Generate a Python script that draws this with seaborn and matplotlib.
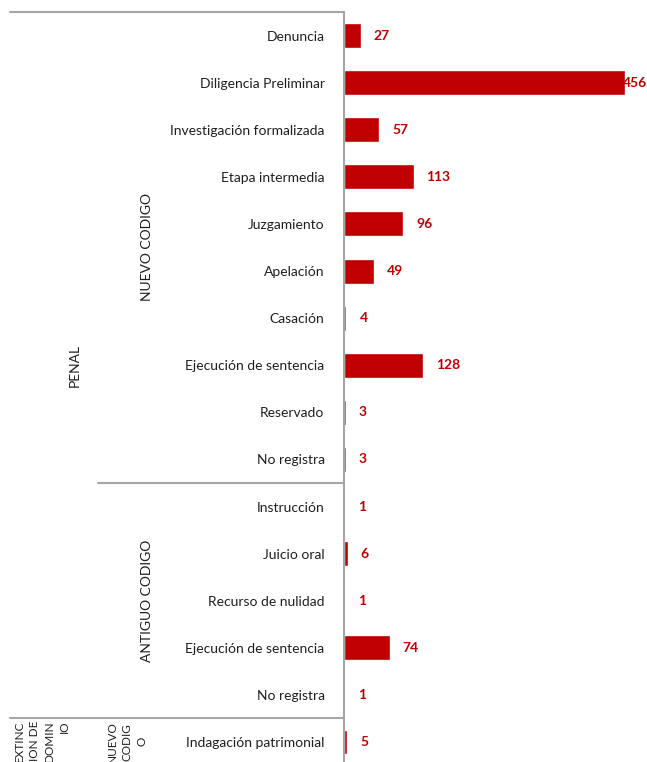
import pandas as pd
import matplotlib.pyplot as plt
import matplotlib.transforms as mtransforms
import seaborn as sns

etapas = ["Denuncia", "Diligencia Preliminar", "Investigación formalizada",
          "Etapa intermedia", "Juzgamiento", "Apelación", "Casación",
          "Ejecución de sentencia", "Reservado", "No registra",
          "Instrucción", "Juicio oral", "Recurso de nulidad",
          "Ejecución de sentencia", "No registra",
          "Indagación patrimonial"]
codigos = ["NUEVO CODIGO"] * 10 + ["ANTIGUO CODIGO"] * 5 + ["NUEVO CODIGO"]
materias = ["PENAL"] * 15 + ["EXTINCION DE DOMINIO"]
valores = [27, 456, 57, 113, 96, 49, 4, 128, 3, 3, 1, 6, 1, 74, 1, 5]

df = pd.DataFrame({"etapa": etapas, "codigo": codigos, "materia": materias, "valor": valores})
df["fila"] = [f"{i}" for i in range(len(df))]

RED = "#C00000"
GRAY = "#A6A6A6"
TXT = "#1F1F1F"
FS = 10

sns.set_style("white")
plt.rcParams["font.family"] = ["Lato", "DejaVu Sans"]

fig = plt.figure(figsize=(6.47, 7.62), dpi=100)
ax = fig.add_axes([344 / 647, 0, 1 - 344 / 647, 1 - 12 / 762])

sns.barplot(data=df, x="valor", y="fila", orient="h", color=RED,
            width=0.53, saturation=1, ax=ax)

xmax = 492
ax.set_xlim(0, xmax)
ax.set_ylim(15 + 20 / 47.1, -0.5)
ax.set_xlabel("")
ax.set_ylabel("")
ax.set_xticks([])
ax.set_yticks(range(len(df)))
ax.set_yticklabels(df["etapa"], fontsize=FS, color=TXT)
ax.tick_params(axis="y", length=0, pad=14)
for s in ["top", "right", "bottom"]:
    ax.spines[s].set_visible(False)
ax.spines["left"].set_color(GRAY)
ax.spines["left"].set_linewidth(1.5)

# value labels
px = xmax / (647 - 344)
for i, v in enumerate(df["valor"]):
    x = v + 13 * px
    if x + 22 * px > xmax:
        ax.text(xmax, i, str(v), ha="right", va="center", color=RED,
                fontsize=FS, fontweight="bold", clip_on=False)
    else:
        ax.text(x, i, str(v), ha="left", va="center", color=RED,
                fontsize=FS, fontweight="bold")

# group labels and separators
tr = mtransforms.blended_transform_factory(fig.transFigure, ax.transData)
W = 647
for y0, x0 in [(-0.5, 10), (9.5, 98), (14.5, 10)]:
    fig.add_artist(plt.Line2D([x0 / W, 344 / W], [y0, y0], transform=tr,
                              color=GRAY, lw=1.5))

ax.text(147 / W, 4.5, "NUEVO CODIGO", transform=tr, rotation=90,
        ha="center", va="center", fontsize=FS, color=TXT, clip_on=False)
ax.text(147 / W, 12, "ANTIGUO CODIGO", transform=tr, rotation=90,
        ha="center", va="center", fontsize=FS, color=TXT, clip_on=False)
ax.text(75 / W, 7, "PENAL", transform=tr, rotation=90,
        ha="center", va="center", fontsize=FS, color=TXT, clip_on=False)
ax.text(42 / W, 14.55, "EXTINC\nION DE\nDOMIN\nIO", transform=tr, rotation=90,
        ha="center", va="top", fontsize=8.5, color=TXT, clip_on=False,
        linespacing=1.45, multialignment="right")
ax.text(127 / W, 14.55, "NUEVO\nCODIG\nO", transform=tr, rotation=90,
        ha="center", va="top", fontsize=8.5, color=TXT, clip_on=False,
        linespacing=1.45, multialignment="center")

fig.savefig("out.png", dpi=100)
